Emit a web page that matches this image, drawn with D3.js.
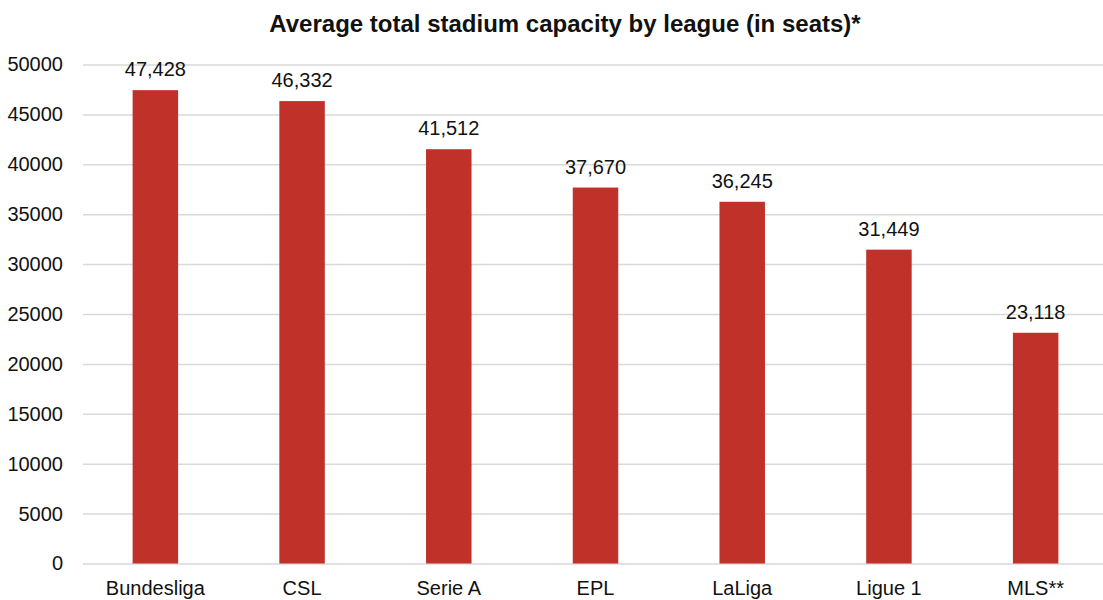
<!DOCTYPE html>
<html>
<head>
<meta charset="utf-8">
<script src="https://cdn.jsdelivr.net/npm/d3@7"></script>
<style>
  body { margin: 0; background: #fff; }
  text { font-family: "Liberation Sans", Arial, sans-serif; fill: #111; }
</style>
</head>
<body>
<svg width="1103" height="600"></svg>
<script>
var leagues = ["Bundesliga", "CSL", "Serie A", "EPL", "LaLiga", "Ligue 1", "MLS**"];
var capacity = [47428, 46332, 41512, 37670, 36245, 31449, 23118];
var yTicks = [0, 5000, 10000, 15000, 20000, 25000, 30000, 35000, 40000, 45000, 50000];

var data = leagues.map(function (d, i) {
    return {league: d, value: capacity[i]};
});

var svg = d3.select("svg");

var x = d3.scaleBand()
    .domain(leagues)
    .range([82, 1109])
    .paddingInner(0.69)
    .paddingOuter(0.345);

var y = d3.scaleLinear()
    .domain([0, 50000])
    .range([563.5, 64.5]);

// grid + y labels
var yAxis = svg.append("g")
    .attr("transform", "translate(83,0)")
    .call(d3.axisLeft(y).tickValues(yTicks).tickSize(-1020).tickPadding(20).tickFormat(d3.format("d")));
yAxis.select(".domain").remove();
yAxis.selectAll(".tick line").attr("stroke", "#d9d9d9").attr("stroke-width", 1.5);
yAxis.selectAll(".tick text").style("font-size", "20px").attr("fill", "#111");

svg.append("g").selectAll("rect")
    .data(data)
    .enter().append("rect")
    .attr("x", function (d) { return x(d.league); })
    .attr("y", function (d) { return y(d.value); })
    .attr("width", x.bandwidth())
    .attr("height", function (d) { return y(0) - y(d.value); })
    .attr("fill", "#c0312a");

svg.append("g").selectAll("text")
    .data(data)
    .enter().append("text")
    .attr("x", function (d) { return x(d.league) + x.bandwidth() / 2; })
    .attr("y", function (d) { return y(d.value) - 14; })
    .attr("text-anchor", "middle")
    .style("font-size", "20px")
    .text(function (d) { return d3.format(",")(d.value); });

svg.append("g").selectAll("text")
    .data(leagues)
    .enter().append("text")
    .attr("x", function (d) { return x(d) + x.bandwidth() / 2; })
    .attr("y", 595)
    .attr("text-anchor", "middle")
    .style("font-size", "20px")
    .text(function (d) { return d; });

svg.append("text")
    .attr("x", 565)
    .attr("y", 32)
    .attr("text-anchor", "middle")
    .style("font-size", "24px")
    .style("font-weight", "bold")
    .text("Average total stadium capacity by league (in seats)*");
</script>
</body>
</html>
